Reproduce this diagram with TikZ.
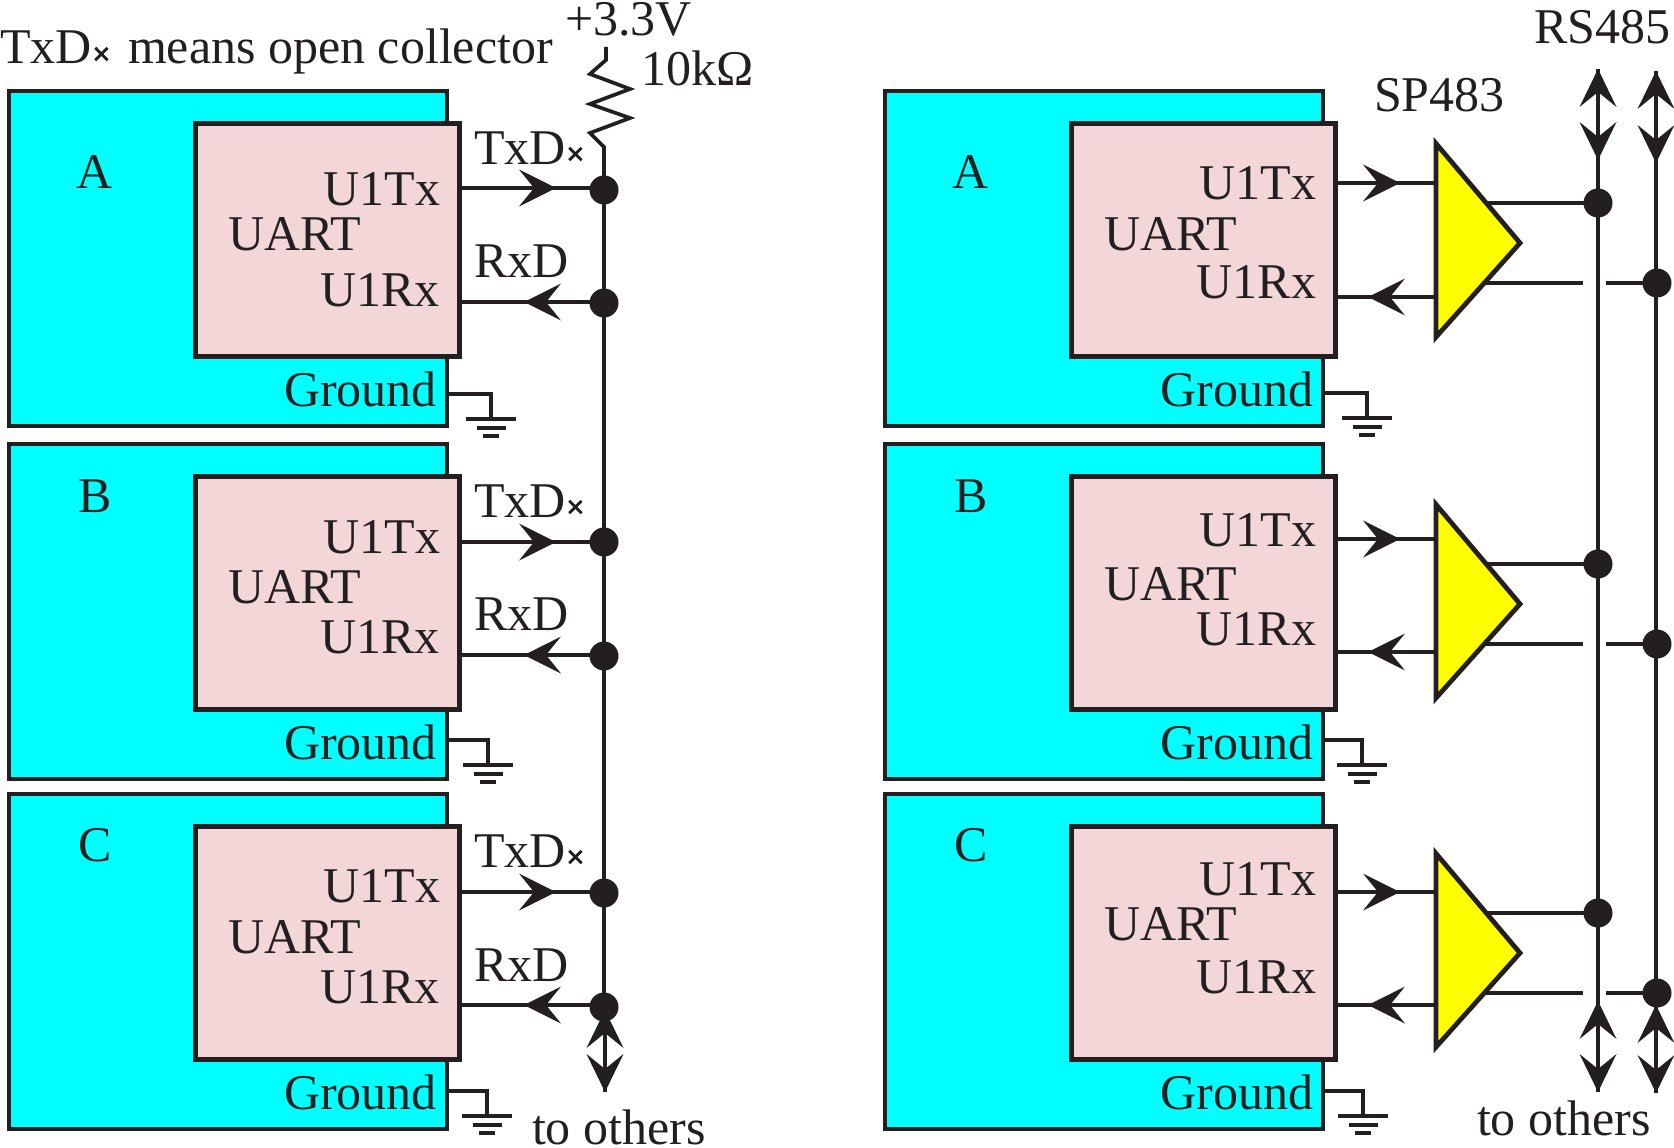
\documentclass[tikz,border=0pt]{standalone}
\usepackage{fontspec}
\setmainfont{Liberation Serif}
\newfontfamily\xfont[FakeBold=2.5]{Liberation Sans}
\usetikzlibrary{arrows.meta}
\definecolor{ink}{HTML}{231F20}
\definecolor{pinkbox}{HTML}{F3D6D7}
\definecolor{boardcyan}{HTML}{00FFFF}
\definecolor{ampyellow}{HTML}{FFFF00}
\newcommand\ox{\kern1pt{\xfont\fontsize{30}{30}\selectfont ×}}
\tikzset{
  every node/.style={text=ink,font=\fontsize{50}{56}\selectfont,inner sep=0pt,outer sep=0pt},
  boardbox/.style={draw=ink,fill=boardcyan,line width=4.5pt,minimum width=438pt,minimum height=335pt,anchor=north west},
  uartbox/.style={draw=ink,fill=pinkbox,line width=5pt,minimum width=264pt,minimum height=233pt,anchor=north west},
  lblw/.style={anchor=base west},
  lble/.style={anchor=base east},
  lblc/.style={anchor=base},
  wire/.style={draw=ink,line width=4.3pt},
  junction/.style={circle,fill=ink,minimum size=29pt},
  tri/.style={draw=ink,fill=ampyellow,line width=4.8pt,miter limit=10},
  tip/.style={wire,-{Stealth[length=37pt,width=37pt,inset=15pt,line width=0pt]}},
  both/.style={wire,{Stealth[length=38pt,width=37pt,inset=15pt,line width=0pt]}-{Stealth[length=38pt,width=37pt,inset=15pt,line width=0pt]}},
}
% #1 id, #2 dx, #3 dy, #4 letter, #5 letter baseline
\newcommand\Board[5]{
  \node[boardbox] (box#1) at (9+#2,91+#3) {};
  \node[uartbox] (uart#1) at (195+#2,123+#3) {};
  \node[lblc] (let#1) at (95+#2,#5) {#4};
}
% #1 id, #2 dx, #3 uart base, #4 tx, #5 rx, #6 ground
\newcommand\Labels[6]{
  \node[lblw] (lu#1) at (228+#2,#3) {UART};
  \node[lble] (lt#1) at (440+#2,#4) {U1Tx};
  \node[lble] (lr#1) at (440+#2,#5) {U1Rx};
  \node[lble] (lg#1) at (437+#2,#6) {Ground};
}
% #1 id, #2 x, #3 wire y
\newcommand\Gnd[3]{
  \coordinate (ga#1) at (#2,#3);
  \coordinate (gb#1) at (#2,#3+25);
  \draw[wire] (box#1.east |- ga#1) -- (ga#1) -- (gb#1);
  \coordinate (g1l#1) at (#2-25,#3+25); \coordinate (g1r#1) at (#2+25,#3+25);
  \coordinate (g2l#1) at (#2-14.5,#3+34); \coordinate (g2r#1) at (#2+14.5,#3+34);
  \coordinate (g3l#1) at (#2-8,#3+42); \coordinate (g3r#1) at (#2+8,#3+42);
  \draw[wire] (g1l#1) -- (g1r#1);
  \draw[wire] (g2l#1) -- (g2r#1);
  \draw[wire] (g3l#1) -- (g3r#1);
}
% signal with arrowhead mid-way: #1 from, #2 tip x, #3 y, #4 to, #5 name
\newcommand\Sig[5]{
  \coordinate (#5) at (#2,#3);
  \draw[wire] (#1) -- (#4);
  \draw[tip] (#1) -- (#5);
}
% left row: #1 id, #2 tx y, #3 tx dot y, #4 rx y, #5 rx dot y
\newcommand\LeftRow[5]{
  \node[junction] (dt#1) at (604,#3) {};
  \node[junction] (dr#1) at (604,#5) {};
  \coordinate (st#1) at (459,#2); \coordinate (et#1) at (604,#2);
  \coordinate (sr#1) at (604,#4); \coordinate (er#1) at (459,#4);
  \Sig{st#1}{556}{#2}{et#1}{at#1}
  \Sig{sr#1}{524}{#4}{er#1}{ar#1}
}
% right row: #1 id, #2 tx y, #3 rx y, #4 triangle dy
\newcommand\RightRow[4]{
  \coordinate (tt#1) at (1436,143.5+#4);
  \coordinate (tb#1) at (1436,337+#4);
  \coordinate (tr#1) at (1520,243+#4);
  \draw[tri] (tt#1) -- (tr#1) -- (tb#1) -- cycle;
  \coordinate (st#1) at (1335,#2); \coordinate (et#1) at (1436,#2);
  \coordinate (sr#1) at (1436,#3); \coordinate (er#1) at (1335,#3);
  \Sig{st#1}{1400}{#2}{et#1}{at#1}
  \Sig{sr#1}{1368}{#3}{er#1}{ar#1}
  \node[junction] (da#1) at (1598,203+#4) {};
  \node[junction] (db#1) at (1657,283+#4) {};
  \coordinate (oa#1) at (1486,203+#4);
  \coordinate (ob#1) at (1485,283+#4);
  \coordinate (gl#1) at (1583,283+#4);
  \coordinate (gr#1) at (1606,283+#4);
  \draw[wire] (oa#1) -- (da#1);
  \draw[wire] (ob#1) -- (gl#1);
  \draw[wire] (gr#1) -- (db#1);
}
\begin{document}
\begin{tikzpicture}[x=1pt,y=-1pt]
\useasboundingbox (0,0) rectangle (1674,1148);
% ===== left =====
\Board{A}{0}{0}{A}{188}
\Board{B}{0}{353}{B}{512}
\Board{C}{0}{703}{C}{861}
\Labels{A}{0}{250}{205}{306}{406}
\Labels{B}{0}{603}{553}{653}{759}
\Labels{C}{0}{953}{902}{1003}{1109}
\Gnd{A}{491}{394}
\Gnd{B}{488}{740}
\Gnd{C}{487}{1091}
\LeftRow{A}{188}{190}{302}{303}
\LeftRow{B}{542}{542}{655}{656}
\LeftRow{C}{892}{893}{1005}{1007}
\node[lblw] (txa) at (474,164) {TxD\ox};
\node[lblw] (rxa) at (474,277) {RxD};
\node[lblw] (txb) at (474,517) {TxD\ox};
\node[lblw] (rxb) at (474,630) {RxD};
\node[lblw] (txc) at (474,867) {TxD\ox};
\node[lblw] (rxc) at (474,981) {RxD};
% resistor and left bus
\coordinate (r0) at (606,47);
\coordinate (r1) at (606,60);
\coordinate (r2) at (590,74);
\coordinate (r3) at (630,89);
\coordinate (r4) at (590,104);
\coordinate (r5) at (630,118);
\coordinate (r6) at (590,133);
\coordinate (r7) at (604,147);
\draw[wire,line width=3.7pt] (r0) -- (r1) -- (r2) -- (r3) -- (r4) -- (r5) -- (r6) -- (r7) -- (dtA.center);
\draw[wire] (dtA.center) -- (drA.center);
\draw[wire] (drA.center) -- (dtB.center);
\draw[wire] (dtB.center) -- (drB.center);
\draw[wire] (drB.center) -- (dtC.center);
\draw[wire] (dtC.center) -- (drC.center);
\coordinate (lu) at (605,1010);
\coordinate (ld) at (605,1092);
\draw[wire] (lu) -- (ld);
\draw[both] (lu) -- (ld);
% top texts
\node[lblw] (note1) at (0,64) {TxD\ox};
\node[lblw] (note2) at (128,64) {means open collector};
\node[lblw] (vcc) at (565,36) {+3.3V};
\node[lblw] (res) at (641,85) {10kΩ};
\node[lblw] (oth1) at (532,1144) {to others};
% ===== right =====
\Board{D}{876}{0}{A}{188}
\Board{E}{876}{353}{B}{512}
\Board{F}{876}{703}{C}{861}
\Labels{D}{876}{250}{199}{298}{406}
\Labels{E}{876}{600}{546}{645}{759}
\Labels{F}{876}{940}{895}{993}{1109}
\Gnd{D}{1367}{393}
\Gnd{E}{1362}{740}
\Gnd{F}{1363}{1091}
\RightRow{D}{183}{297}{0}
\RightRow{E}{539}{652}{361}
\RightRow{F}{892}{1005}{710}
% RS485 bus
\coordinate (ua) at (1598,69); \coordinate (ma) at (1598,160);
\coordinate (na) at (1598,1001); \coordinate (ea) at (1598,1092);
\coordinate (ub) at (1656,71); \coordinate (mb) at (1656,163);
\coordinate (nb) at (1656,1005); \coordinate (eb) at (1656,1093);
\draw[wire] (ua) -- (ea);
\draw[both] (ua) -- (ma);
\draw[both] (na) -- (ea);
\draw[wire] (ub) -- (eb);
\draw[both] (ub) -- (mb);
\draw[both] (nb) -- (eb);
\node[lblw] (sp) at (1374,111) {SP483};
\node[lblw] (rs) at (1534,44) {RS485};
\node[lblw] (oth2) at (1477,1135) {to others};
\end{tikzpicture}
\end{document}
